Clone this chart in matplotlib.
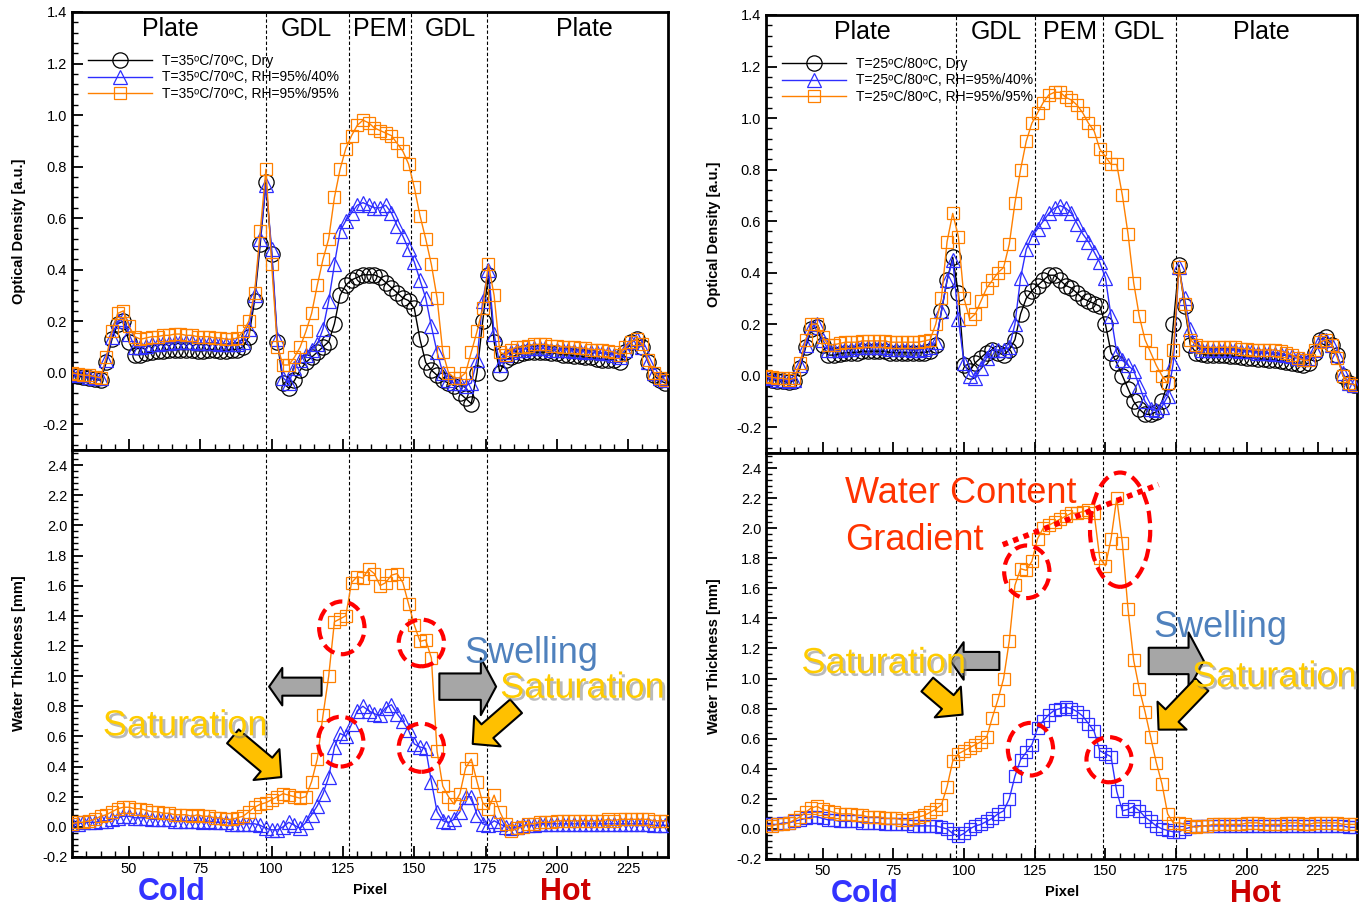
import matplotlib.pyplot as plt
import matplotlib.patheffects as pe
import numpy as np
from matplotlib.patches import Ellipse, FancyArrowPatch
from matplotlib.ticker import AutoMinorLocator, FormatStrFormatter, MultipleLocator

plt.rcParams["font.family"] = ["Liberation Sans", "DejaVu Sans"]

# pixel positions (every 2nd pixel)
pixel = np.arange(30, 240, 2)

# ---- optical density, left case (35C/70C)
od_dry_l = [-0.01, -0.012, -0.015, -0.02, -0.025, -0.03, 0.04, 0.13, 0.19, 0.2,
            0.12, 0.07, 0.07, 0.075, 0.08, 0.085, 0.085, 0.09, 0.09, 0.09,
            0.09, 0.09, 0.085, 0.085, 0.09, 0.09, 0.085, 0.085, 0.09, 0.09,
            0.1, 0.14, 0.28, 0.5, 0.74, 0.46, 0.12, -0.04, -0.06, -0.03,
            0.01, 0.04, 0.06, 0.08, 0.1, 0.12, 0.19, 0.3, 0.34, 0.36,
            0.37, 0.38, 0.38, 0.38, 0.37, 0.35, 0.33, 0.31, 0.29, 0.28,
            0.25, 0.13, 0.04, 0.01, -0.01, -0.03, -0.04, -0.05, -0.08, -0.1,
            -0.12, 0.0, 0.2, 0.38, 0.12, 0.0, 0.05, 0.06, 0.07, 0.075,
            0.08, 0.08, 0.08, 0.08, 0.075, 0.075, 0.07, 0.07, 0.065, 0.065,
            0.06, 0.06, 0.055, 0.05, 0.05, 0.05, 0.04, 0.08, 0.12, 0.13,
            0.1, 0.04, -0.01, -0.03, -0.04]
od_rh40_l = [-0.005, -0.01, -0.01, -0.015, -0.02, -0.02, 0.05, 0.14, 0.2, 0.21,
             0.15, 0.1, 0.1, 0.105, 0.11, 0.11, 0.115, 0.115, 0.12, 0.12,
             0.12, 0.12, 0.115, 0.115, 0.115, 0.115, 0.11, 0.11, 0.11, 0.11,
             0.12, 0.17, 0.3, 0.52, 0.73, 0.48, 0.13, -0.02, -0.04, 0.02,
             0.05, 0.07, 0.09, 0.11, 0.17, 0.28, 0.42, 0.55, 0.59, 0.62,
             0.65, 0.66, 0.65, 0.64, 0.64, 0.65, 0.62, 0.57, 0.53, 0.48,
             0.43, 0.36, 0.29, 0.18, 0.08, 0.0, -0.03, -0.04, -0.04, -0.05,
             -0.04, 0.05, 0.28, 0.4, 0.15, 0.03, 0.07, 0.08, 0.09, 0.09,
             0.095, 0.095, 0.095, 0.095, 0.09, 0.09, 0.09, 0.09, 0.085, 0.085,
             0.08, 0.08, 0.08, 0.075, 0.075, 0.07, 0.06, 0.09, 0.12, 0.13,
             0.1, 0.04, 0.0, -0.02, -0.03]
od_rh95_l = [0.0, -0.005, -0.01, -0.01, -0.015, -0.02, 0.06, 0.16, 0.23, 0.24,
             0.18, 0.14, 0.13, 0.135, 0.14, 0.14, 0.145, 0.145, 0.15, 0.15,
             0.145, 0.145, 0.14, 0.14, 0.14, 0.135, 0.135, 0.13, 0.13, 0.135,
             0.16, 0.2, 0.31, 0.55, 0.79, 0.42, 0.1, 0.03, 0.03, 0.06,
             0.1, 0.16, 0.23, 0.34, 0.44, 0.52, 0.68, 0.79, 0.87, 0.92,
             0.96, 0.98, 0.97, 0.95, 0.94, 0.93, 0.92, 0.89, 0.86, 0.81,
             0.72, 0.61, 0.52, 0.42, 0.29, 0.08, 0.0, -0.02, -0.02, 0.0,
             0.08, 0.16, 0.25, 0.42, 0.3, 0.08, 0.07, 0.09, 0.1, 0.1,
             0.105, 0.11, 0.11, 0.11, 0.105, 0.105, 0.1, 0.1, 0.1, 0.095,
             0.095, 0.09, 0.09, 0.09, 0.085, 0.08, 0.07, 0.1, 0.12, 0.13,
             0.11, 0.05, 0.0, -0.02, -0.03]

# ---- optical density, right case (25C/80C)
od_dry_r = [-0.01, -0.015, -0.02, -0.02, -0.025, -0.02, 0.03, 0.11, 0.18, 0.19,
            0.12, 0.08, 0.08, 0.085, 0.09, 0.09, 0.09, 0.095, 0.095, 0.095,
            0.095, 0.095, 0.09, 0.09, 0.09, 0.09, 0.09, 0.09, 0.09, 0.095,
            0.12, 0.25, 0.37, 0.46, 0.32, 0.04, 0.02, 0.05, 0.07, 0.09,
            0.1, 0.09, 0.08, 0.1, 0.14, 0.24, 0.3, 0.33, 0.35, 0.37,
            0.39, 0.39, 0.37, 0.35, 0.34, 0.32, 0.3, 0.29, 0.28, 0.27,
            0.2, 0.09, 0.05, 0.0, -0.05, -0.1, -0.13, -0.15, -0.15, -0.14,
            -0.1, -0.03, 0.2, 0.43, 0.27, 0.12, 0.09, 0.085, 0.08, 0.08,
            0.08, 0.08, 0.077, 0.075, 0.073, 0.07, 0.068, 0.066, 0.064, 0.062,
            0.06, 0.058, 0.055, 0.05, 0.045, 0.04, 0.05, 0.09, 0.14, 0.15,
            0.12, 0.08, 0.0, -0.03, -0.035]
od_rh40_r = [-0.005, -0.01, -0.015, -0.015, -0.02, -0.015, 0.04, 0.12, 0.19, 0.2,
             0.14, 0.1, 0.1, 0.1, 0.105, 0.105, 0.11, 0.11, 0.11, 0.11,
             0.11, 0.11, 0.105, 0.105, 0.105, 0.105, 0.1, 0.1, 0.105, 0.11,
             0.13, 0.25, 0.37, 0.45, 0.22, 0.05, 0.0, -0.01, 0.03, 0.07,
             0.1, 0.1, 0.1, 0.11, 0.2, 0.38, 0.49, 0.54, 0.57, 0.6,
             0.63, 0.65, 0.66, 0.65, 0.63, 0.59, 0.55, 0.52, 0.48, 0.44,
             0.38, 0.23, 0.09, 0.06, 0.04, 0.02, -0.04, -0.1, -0.13, -0.135,
             -0.12, -0.08, 0.05, 0.42, 0.3, 0.18, 0.12, 0.1, 0.1, 0.1,
             0.1, 0.1, 0.1, 0.1, 0.095, 0.095, 0.095, 0.09, 0.09, 0.09,
             0.085, 0.085, 0.08, 0.075, 0.07, 0.065, 0.07, 0.1, 0.14, 0.14,
             0.12, 0.08, 0.01, -0.03, -0.035]
od_rh95_r = [0.0, -0.005, -0.01, -0.01, -0.015, -0.01, 0.05, 0.14, 0.2, 0.2,
             0.15, 0.12, 0.12, 0.125, 0.13, 0.13, 0.13, 0.135, 0.135, 0.135,
             0.135, 0.135, 0.13, 0.13, 0.13, 0.13, 0.13, 0.13, 0.135, 0.14,
             0.2, 0.3, 0.52, 0.63, 0.54, 0.3, 0.22, 0.24, 0.29, 0.34,
             0.37, 0.4, 0.42, 0.51, 0.67, 0.8, 0.91, 0.98, 1.02, 1.06,
             1.09, 1.1, 1.1, 1.08, 1.07, 1.05, 1.02, 0.98, 0.95, 0.88,
             0.85, 0.82, 0.82, 0.7, 0.55, 0.36, 0.23, 0.14, 0.09, 0.04,
             0.0, -0.03, 0.1, 0.42, 0.28, 0.14, 0.12, 0.11, 0.11, 0.11,
             0.11, 0.11, 0.11, 0.11, 0.105, 0.105, 0.1, 0.1, 0.1, 0.1,
             0.1, 0.095, 0.09, 0.08, 0.07, 0.06, 0.06, 0.1, 0.13, 0.14,
             0.12, 0.07, 0.0, -0.03, -0.035]

# ---- water thickness [mm]
wt_rh40_l = [0.02, 0.02, 0.03, 0.03, 0.03, 0.04, 0.04, 0.05, 0.06, 0.07,
             0.07, 0.06, 0.06, 0.06, 0.05, 0.05, 0.05, 0.05, 0.04, 0.04,
             0.04, 0.04, 0.04, 0.03, 0.04, 0.03, 0.03, 0.03, 0.02, 0.02,
             0.02, 0.02, 0.02, 0.01, -0.01, -0.02, -0.02, 0.0, 0.03, 0.01,
             -0.01, 0.03, 0.08, 0.14, 0.22, 0.33, 0.53, 0.62, 0.6, 0.68,
             0.77, 0.8, 0.77, 0.75, 0.74, 0.79, 0.81, 0.75, 0.7, 0.64,
             0.55, 0.53, 0.52, 0.3, 0.1, 0.04, 0.03, 0.05, 0.1, 0.2,
             0.2, 0.08, 0.02, 0.01, 0.04, 0.02, 0.0, -0.01, 0.0, 0.01,
             0.01, 0.01, 0.02, 0.02, 0.02, 0.02, 0.02, 0.02, 0.02, 0.02,
             0.02, 0.02, 0.02, 0.02, 0.02, 0.02, 0.02, 0.02, 0.02, 0.02,
             0.02, 0.02, 0.01, 0.01, 0.01]
wt_rh95_l = [0.02, 0.03, 0.03, 0.04, 0.05, 0.07, 0.08, 0.1, 0.12, 0.13,
             0.13, 0.12, 0.12, 0.11, 0.1, 0.1, 0.09, 0.09, 0.08, 0.08,
             0.08, 0.07, 0.08, 0.07, 0.07, 0.06, 0.06, 0.05, 0.05, 0.06,
             0.07, 0.1, 0.13, 0.15, 0.16, 0.18, 0.2, 0.22, 0.21, 0.2,
             0.19, 0.2, 0.3, 0.45, 0.74, 1.0, 1.36, 1.38, 1.4, 1.62,
             1.66, 1.65, 1.71, 1.68, 1.6, 1.62, 1.67, 1.68, 1.62, 1.48,
             1.34, 1.23, 1.24, 1.12, 0.5, 0.27, 0.2, 0.15, 0.22, 0.39,
             0.45, 0.3, 0.16, 0.12, 0.21, 0.1, 0.02, -0.03, -0.01, 0.0,
             0.02, 0.02, 0.03, 0.03, 0.03, 0.04, 0.04, 0.04, 0.04, 0.04,
             0.04, 0.04, 0.04, 0.04, 0.05, 0.04, 0.05, 0.05, 0.05, 0.05,
             0.05, 0.05, 0.04, 0.04, 0.04]
wt_rh40_r = [0.03, 0.03, 0.03, 0.04, 0.04, 0.05, 0.06, 0.07, 0.08, 0.08,
             0.07, 0.06, 0.06, 0.05, 0.05, 0.05, 0.05, 0.04, 0.04, 0.04,
             0.04, 0.03, 0.03, 0.03, 0.03, 0.03, 0.02, 0.02, 0.02, 0.02,
             0.02, 0.01, 0.0, -0.03, -0.05, -0.03, 0.0, 0.02, 0.03, 0.05,
             0.07, 0.1, 0.12, 0.2, 0.35, 0.46, 0.51, 0.56, 0.67, 0.72,
             0.76, 0.79, 0.8, 0.81, 0.8, 0.78, 0.75, 0.7, 0.65, 0.52,
             0.5, 0.48, 0.25, 0.12, 0.13, 0.15, 0.12, 0.08, 0.05, 0.02,
             0.0, -0.01, -0.02, -0.02, 0.0, 0.01, 0.02, 0.02, 0.02, 0.02,
             0.02, 0.02, 0.02, 0.02, 0.02, 0.02, 0.02, 0.02, 0.02, 0.02,
             0.02, 0.02, 0.02, 0.02, 0.02, 0.02, 0.02, 0.02, 0.02, 0.02,
             0.02, 0.02, 0.02, 0.01, 0.01]
wt_rh95_r = [0.02, 0.02, 0.03, 0.03, 0.04, 0.06, 0.08, 0.11, 0.14, 0.15,
             0.13, 0.12, 0.11, 0.1, 0.1, 0.1, 0.09, 0.09, 0.08, 0.08,
             0.08, 0.07, 0.07, 0.07, 0.06, 0.06, 0.07, 0.08, 0.09, 0.11,
             0.13, 0.16, 0.28, 0.45, 0.5, 0.52, 0.54, 0.56, 0.58, 0.61,
             0.74, 0.86, 1.0, 1.25, 1.62, 1.73, 1.72, 1.78, 1.93, 2.0,
             2.02, 2.04, 2.06, 2.08, 2.1, 2.1, 2.11, 2.12, 2.1, 1.8,
             1.75, 1.93, 2.2, 1.9, 1.46, 1.12, 0.93, 0.78, 0.61, 0.44,
             0.3, 0.1, 0.04, 0.04, 0.03, 0.02, 0.01, 0.02, 0.02, 0.03,
             0.03, 0.03, 0.03, 0.03, 0.03, 0.04, 0.04, 0.04, 0.03, 0.03,
             0.03, 0.03, 0.04, 0.04, 0.04, 0.03, 0.03, 0.04, 0.04, 0.04,
             0.04, 0.04, 0.03, 0.03, 0.03]

region_names = ["Plate", "GDL", "PEM", "GDL", "Plate"]
region_x_l = [64.5, 112, 138, 162.5, 209.5]
region_x_r = [64, 111.5, 137.5, 162, 205]
bounds_l = [98, 127, 149, 175.5]
bounds_r = [97, 125, 149, 175]
labels_l = ["T=35\u1d52C/70\u1d52C, Dry",
            "T=35\u1d52C/70\u1d52C, RH=95%/40%",
            "T=35\u1d52C/70\u1d52C, RH=95%/95%"]
labels_r = ["T=25\u1d52C/80\u1d52C, Dry",
            "T=25\u1d52C/80\u1d52C, RH=95%/40%",
            "T=25\u1d52C/80\u1d52C, RH=95%/95%"]

BLACK = "k"
BLUE = "#2E2EFF"
ORANGE = "#FF8000"
GOLD = "#FFCC00"
GREY = "#A6A6A6"

fig = plt.figure(figsize=(13.59, 9.08), dpi=100)
ax_tl = fig.add_axes([0.0530, 0.5044, 0.4386, 0.4824])
ax_bl = fig.add_axes([0.0530, 0.0562, 0.4386, 0.4482])
ax_tr = fig.add_axes([0.5637, 0.5011, 0.4349, 0.4824])
ax_br = fig.add_axes([0.5637, 0.0540, 0.4349, 0.4471])


def style(ax, ylim, top):
    ax.set_xlim(30, 239)
    ax.set_ylim(*ylim)
    ax.xaxis.set_major_locator(MultipleLocator(25))
    ax.xaxis.set_minor_locator(MultipleLocator(5))
    ax.yaxis.set_major_locator(MultipleLocator(0.2))
    ax.yaxis.set_minor_locator(AutoMinorLocator(5))
    ax.yaxis.set_major_formatter(FormatStrFormatter("%.1f"))
    ax.tick_params(which="both", direction="in", top=False, right=False,
                   labelsize=10.5, labelbottom=not top)
    ax.tick_params(which="major", length=8, width=1.3)
    ax.tick_params(which="minor", length=4, width=1)
    for s in ax.spines.values():
        s.set_linewidth(2)


def od_panel(ax, dry, rh40, rh95, labels, bounds, region_x):
    ax.plot(pixel, dry, color=BLACK, lw=1, marker="o", ms=11, mfc="none",
            mec=BLACK, mew=0.9, label=labels[0], zorder=3)
    ax.plot(pixel, rh40, color=BLUE, lw=1, marker="^", ms=10, mfc="none",
            mec=BLUE, mew=0.9, label=labels[1], zorder=4)
    ax.plot(pixel, rh95, color=ORANGE, lw=1, marker="s", ms=9, mfc="none",
            mec=ORANGE, mew=0.9, label=labels[2], zorder=5)
    for b in bounds:
        ax.axvline(b, color="k", ls=(0, (3, 2)), lw=0.8, zorder=1)
    for name, x in zip(region_names, region_x):
        ax.text(x, 1.335, name, ha="center", va="center", fontsize=18)
    style(ax, (-0.3, 1.4), True)
    ax.set_ylabel("Optical Density [a.u.]", fontweight="bold", fontsize=10.5)
    ax.yaxis.set_label_coords(-0.077, 0.5)
    ax.legend(loc="upper left", bbox_to_anchor=(0.027, 0.905), frameon=False,
              fontsize=10, handlelength=4.6, handletextpad=0.7,
              labelspacing=0.2, borderaxespad=0, borderpad=0)


def wt_panel(ax, rh40, rh95, blue_marker, bounds):
    ax.plot(pixel, rh40, color=BLUE, lw=1, marker=blue_marker,
            ms=10 if blue_marker == "^" else 9, mfc="none", mec=BLUE, mew=0.9,
            zorder=4)
    ax.plot(pixel, rh95, color=ORANGE, lw=1, marker="s", ms=9, mfc="none",
            mec=ORANGE, mew=0.9, zorder=5)
    for b in bounds:
        ax.axvline(b, color="k", ls=(0, (3, 2)), lw=0.8, zorder=1)
    style(ax, (-0.2, 2.5), False)
    ax.set_ylabel("Water Thickness [mm]", fontweight="bold", fontsize=10.5)
    ax.yaxis.set_label_coords(-0.077, 0.5)
    tr = ax.get_xaxis_transform()
    ax.text(0.5, -0.082, "Pixel", transform=ax.transAxes, ha="center",
            va="center", fontweight="bold", fontsize=10.5)
    ax.text(65, -0.086, "Cold", transform=tr, ha="center", va="center",
            fontweight="bold", fontsize=22, color="#3333FF")
    ax.text(203, -0.086, "Hot", transform=tr, ha="center", va="center",
            fontweight="bold", fontsize=22, color="#CC0000")


def ring(ax, x, y, w, h):
    ax.add_patch(Ellipse((x, y), w, h, fill=False, ec="#FF0000", lw=3,
                         ls=(0, (3, 1.6)), zorder=7))


def block_arrow(ax, start, end, face, tail, head, hlen):
    style_str = f"simple,head_length={hlen},head_width={head},tail_width={tail}"
    ax.add_patch(FancyArrowPatch(start, end, arrowstyle=style_str,
                                 mutation_scale=1, fc=face, ec="k", lw=1.5,
                                 shrinkA=0, shrinkB=0, zorder=8, clip_on=False))


shadow = [pe.SimplePatchShadow(offset=(2, -2), shadow_rgbFace="#777777", alpha=0.5),
          pe.Normal()]


def note(ax, x, y, s, color, fx=None):
    ax.text(x, y, s, color=color, fontsize=26, ha="left", va="center",
            zorder=9, path_effects=fx)


od_panel(ax_tl, od_dry_l, od_rh40_l, od_rh95_l, labels_l, bounds_l, region_x_l)
od_panel(ax_tr, od_dry_r, od_rh40_r, od_rh95_r, labels_r, bounds_r, region_x_r)
wt_panel(ax_bl, wt_rh40_l, wt_rh95_l, "^", bounds_l)
wt_panel(ax_br, wt_rh40_r, wt_rh95_r, "s", bounds_r)

# annotations, left bottom
ring(ax_bl, 124.6, 1.32, 15.9, 0.35)
ring(ax_bl, 152.5, 1.22, 15.9, 0.31)
ring(ax_bl, 124.2, 0.565, 15.9, 0.33)
ring(ax_bl, 152.5, 0.525, 15.9, 0.32)
block_arrow(ax_bl, (117.5, 0.93), (99.1, 0.93), GREY, 13, 27, 9.5)
block_arrow(ax_bl, (158.8, 0.93), (178.7, 0.93), GREY, 19, 41, 11)
block_arrow(ax_bl, (86.4, 0.60), (103.4, 0.33), "#FFC000", 13, 29, 14)
block_arrow(ax_bl, (185.7, 0.80), (170.5, 0.55), "#FFC000", 13, 29, 14)
note(ax_bl, 40.8, 0.67, "Saturation", GOLD, shadow)
note(ax_bl, 167.7, 1.15, "Swelling", "#4F81BD")
note(ax_bl, 180.1, 0.92, "Saturation", GOLD, shadow)

# annotations, right bottom
ax_br.plot([113.7, 168.8], [1.89, 2.29], color="#FF0000", lw=4,
           ls=(0, (1, 1)), zorder=7)
ring(ax_br, 122.2, 1.71, 16, 0.35)
ring(ax_br, 155.2, 1.99, 21.3, 0.76)
ring(ax_br, 123.5, 0.53, 16, 0.35)
ring(ax_br, 151.3, 0.46, 16, 0.30)
block_arrow(ax_br, (112.5, 1.117), (95.2, 1.117), GREY, 13, 27, 9.5)
block_arrow(ax_br, (165.3, 1.117), (184.8, 1.117), GREY, 19, 41, 11)
block_arrow(ax_br, (87, 0.96), (99.5, 0.76), "#FFC000", 13, 29, 14)
block_arrow(ax_br, (184.1, 0.96), (168.8, 0.66), "#FFC000", 13, 29, 14)
note(ax_br, 57.8, 2.23, "Water Content", "#FF3300")
note(ax_br, 57.8, 1.92, "Gradient", "#FF3300")
note(ax_br, 167, 1.34, "Swelling", "#4F81BD")
note(ax_br, 180.6, 1.01, "Saturation", GOLD, shadow)
note(ax_br, 42.5, 1.10, "Saturation", GOLD, shadow)

fig.savefig("out.png", dpi=100)
